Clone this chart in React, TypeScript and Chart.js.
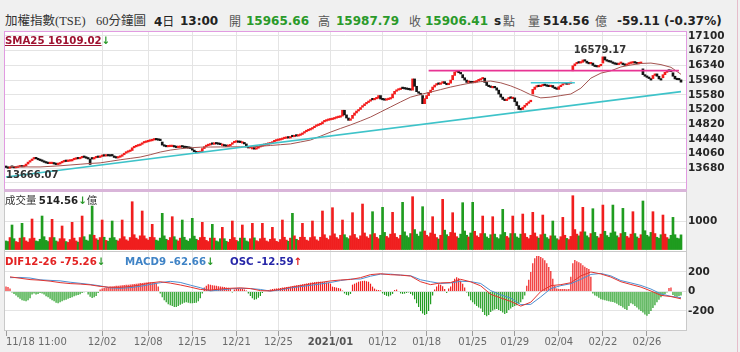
import React, { useEffect, useRef } from 'react';
import { Chart, registerables } from 'chart.js';

Chart.register(...registerables);

// ---------------- data ----------------
const DAYS = ['11/18','11/19','11/20','11/23','11/24','11/25','11/26','11/27','11/30','12/01','12/02','12/03','12/04','12/07','12/08','12/09','12/10','12/11','12/14','12/15','12/16','12/17','12/18','12/21','12/22','12/23','12/24','12/25','12/28','12/29','12/30','12/31','01/04','01/05','01/06','01/07','01/08','01/11','01/12','01/13','01/14','01/15','01/18','01/19','01/20','01/21','01/22','01/25','01/26','01/27','01/28','01/29','02/01','02/02','02/03','02/04','02/05','02/17','02/18','02/19','02/22','02/23','02/24','02/25','02/26','03/02','03/03','03/04'];
const SESSIONS = ['09:00', '10:00', '11:00', '12:00', '13:00'];

// hourly candles, one row per trading day
const OPEN: number[][] = [
  [13740,13700,13680],
  [13720,13705,13690,13700,13715],
  [13730,13715,13740,13790,13840],
  [13880,13920,13940,13925,13900],
  [13890,13860,13835,13815,13800],
  [13800,13810,13790,13775,13790],
  [13820,13845,13860,13855,13865],
  [13870,13900,13915,13930,13925],
  [13950,13970,13960,13940,13920],
  [13960,13920,13950,13965,13960],
  [13985,14000,13995,14010,14000],
  [14030,14000,13960,13945,13965],
  [13990,14030,14070,14095,14115],
  [14140,14210,14235,14255,14270],
  [14300,14335,14350,14365,14380],
  [14390,14410,14420,14415,14405],
  [14360,14280,14250,14235,14240],
  [14240,14255,14230,14215,14220],
  [14260,14230,14215,14210,14200],
  [14190,14150,14110,14080,14085],
  [14110,14190,14240,14265,14280],
  [14320,14300,14320,14310,14300],
  [14270,14280,14255,14245,14260],
  [14300,14340,14355,14360,14350],
  [14330,14345,14310,14230,14205],
  [14180,14195,14175,14200,14230],
  [14250,14270,14285,14300,14310],
  [14330,14365,14385,14400,14410],
  [14425,14445,14455,14470,14462],
  [14510,14495,14520,14512,14530],
  [14555,14590,14625,14650,14670],
  [14695,14730,14765,14785,14805],
  [14830,14880,14900,14918,14930],
  [14940,14955,14975,14990,15000],
  [15030,15180,15060,14980,14920],
  [14970,15050,15110,15160,15200],
  [15260,15300,15345,15380,15415],
  [15480,15450,15475,15490,15560],
  [15480,15450,15440,15455,15470],
  [15500,15600,15670,15700,15715],
  [15760,15740,15730,15720,15710],
  [15700,15990,15800,15660,15620],
  [15560,15350,15480,15560,15640],
  [15710,15780,15830,15870,15850],
  [15880,15920,15870,15840,15880],
  [15970,16080,16170,16210,16150],
  [16100,16020,15960,15900,15920],
  [15920,15890,15910,15940,15960],
  [15990,16010,15900,15820,15790],
  [15760,15790,15760,15700,15600],
  [15520,15460,15430,15470,15510],
  [15480,15500,15400,15300,15200],
  [15200,15260,15310,15360,15400],
  [15600,15720,15780,15800,15790],
  [15810,15840,15820,15800,15790],
  [15820,15770,15740,15720,15790],
  [15830,15860,15880,15850,15870],
  [16200,16330,16380,16420,16400],
  [16420,16480,16450,16400,16380],
  [16400,16340,16310,16300,16330],
  [16400,16560,16480,16450,16430],
  [16430,16390,16370,16360,16390],
  [16400,16360,16340,16370,16390],
  [16400,16430,16400,16380,16390],
  [16250,16100,16060,16030,16000],
  [16000,16080,16120,16060,15990],
  [16020,16100,16160,16200,16190],
  [16150,16060,15990,15970,15965.66],
];
const CLOSE: number[][] = [
  [13700,13680,13700],
  [13705,13690,13700,13715,13725],
  [13715,13740,13790,13840,13870],
  [13920,13940,13925,13900,13880],
  [13860,13835,13815,13800,13815],
  [13810,13790,13775,13790,13820],
  [13845,13860,13855,13865,13870],
  [13900,13915,13930,13925,13950],
  [13970,13960,13940,13920,13780],
  [13920,13950,13965,13960,13985],
  [14000,13995,14010,14000,13995],
  [14000,13960,13945,13965,13990],
  [14030,14070,14095,14115,14130],
  [14210,14235,14255,14270,14300],
  [14335,14350,14365,14380,14390],
  [14410,14420,14415,14405,14395],
  [14280,14250,14235,14240,14250],
  [14255,14230,14215,14220,14235],
  [14230,14215,14210,14200,14190],
  [14150,14110,14080,14085,14100],
  [14190,14240,14265,14280,14290],
  [14300,14320,14310,14300,14290],
  [14280,14255,14245,14260,14280],
  [14340,14355,14360,14350,14345],
  [14345,14310,14230,14205,14210],
  [14195,14175,14200,14230,14250],
  [14270,14285,14300,14310,14325],
  [14365,14385,14400,14410,14420],
  [14445,14455,14470,14462,14480],
  [14495,14520,14512,14530,14550],
  [14590,14625,14650,14670,14690],
  [14730,14765,14785,14805,14820],
  [14880,14900,14918,14930,14940],
  [14955,14975,14990,15000,15020],
  [15180,15060,14980,14920,14960],
  [15050,15110,15160,15200,15250],
  [15300,15345,15380,15415,15440],
  [15450,15475,15490,15560,15470],
  [15450,15440,15455,15470,15490],
  [15600,15670,15700,15715,15730],
  [15740,15730,15720,15710,15700],
  [15990,15800,15660,15620,15580],
  [15350,15480,15560,15640,15700],
  [15780,15830,15870,15850,15880],
  [15920,15870,15840,15880,15960],
  [16080,16170,16210,16150,16120],
  [16020,15960,15900,15920,15890],
  [15890,15910,15940,15960,15990],
  [16010,15900,15820,15790,15770],
  [15790,15760,15700,15600,15520],
  [15460,15430,15470,15510,15490],
  [15500,15400,15300,15200,15190],
  [15260,15310,15360,15400,15440],
  [15720,15780,15800,15790,15810],
  [15840,15820,15800,15790,15810],
  [15770,15740,15720,15790,15830],
  [15860,15880,15850,15870,15880],
  [16330,16380,16420,16400,16420],
  [16480,16450,16400,16380,16400],
  [16340,16310,16300,16330,16360],
  [16560,16480,16450,16430,16420],
  [16390,16370,16360,16390,16400],
  [16360,16340,16370,16390,16400],
  [16430,16400,16380,16390,16400],
  [16100,16060,16030,16000,15960],
  [16080,16120,16060,15990,15960],
  [16100,16160,16200,16190,16180],
  [16060,15990,15970,15965.66,15906.41],
];
// volume (億), one row per day
const VOLUME: number[][] = [
  [300,280,420],
  [860,380,280,250,400],
  [918,420,300,260,380],
  [1070,400,300,280,360],
  [1175,450,320,280,420],
  [1060,420,300,270,380],
  [825,380,280,250,350],
  [954,400,300,260,420],
  [1175,450,330,300,520],
  [1526,500,380,330,420],
  [1035,430,320,290,400],
  [1000,420,330,300,380],
  [1035,450,340,300,420],
  [1677,520,400,350,480],
  [1351,480,380,330,430],
  [884,420,330,300,400],
  [1270,480,360,320,420],
  [1152,450,340,300,400],
  [1035,430,330,290,380],
  [1094,470,360,320,420],
  [954,430,320,280,400],
  [884,400,300,270,380],
  [778,380,290,260,360],
  [1000,420,320,280,400],
  [860,400,300,270,380],
  [918,410,310,280,380],
  [918,400,300,270,360],
  [778,380,290,260,350],
  [1035,430,330,290,400],
  [1270,480,360,320,430],
  [918,430,330,300,420],
  [1000,450,340,300,430],
  [1351,520,400,350,480],
  [1467,550,420,370,500],
  [1035,520,420,380,480],
  [1292,530,410,360,480],
  [1596,580,450,400,520],
  [1327,560,430,380,500],
  [1480,600,460,410,540],
  [1304,560,430,380,500],
  [1655,620,480,420,560],
  [1854,700,540,470,620],
  [1503,650,500,450,580],
  [1152,540,420,370,500],
  [1760,680,520,460,600],
  [1292,580,450,400,540],
  [1643,650,500,440,580],
  [1655,640,480,430,560],
  [1175,560,440,390,520],
  [1152,540,420,380,520],
  [1409,600,460,410,560],
  [1175,560,440,400,540],
  [1245,560,430,380,500],
  [1304,580,450,400,520],
  [1210,540,420,370,480],
  [1000,480,380,340,450],
  [1128,500,390,350,460],
  [1888,700,540,480,620],
  [1480,620,480,420,560],
  [1432,600,460,410,540],
  [1560,640,490,430,580],
  [1560,620,480,420,560],
  [1444,600,460,410,540],
  [1327,560,440,390,520],
  [1702,660,500,450,600],
  [1327,560,430,390,520],
  [1210,540,420,370,500],
  [1128,520,400,380,514.56],
];
// MACD oscillator histogram, one row per day
const OSC: number[][] = [
  [50,45,30],
  [-10,-25,-40,-60,-75],
  [-90,-95,-100,-90,-70],
  [-30,-20,-30,-25,-15],
  [-20,-30,-50,-60,-75],
  [-90,-100,-115,-120,-110],
  [-100,-90,-85,-75,-68],
  [-60,-50,-42,-35,-28],
  [-15,-8,-5,-30,-55],
  [-68,-60,-45,-15,20],
  [30,35,40,45,50],
  [52,55,58,60,62],
  [64,66,68,70,72],
  [75,78,80,83,86],
  [88,90,92,95,95],
  [93,90,85,50,-20],
  [-60,-90,-110,-130,-140],
  [-150,-158,-160,-150,-135],
  [-125,-115,-110,-115,-120],
  [-120,-118,-115,-100,-70],
  [-20,40,60,75,70],
  [65,62,58,55,52],
  [48,46,42,38,30],
  [-10,20,25,28,30],
  [25,20,10,-20,-45],
  [-70,-85,-80,-65,-45],
  [-15,5,8,15,20],
  [25,28,30,33,36],
  [40,42,45,48,50],
  [55,60,63,66,70],
  [74,78,82,86,90],
  [93,96,98,100,100],
  [98,96,93,90,80],
  [50,45,40,35,30],
  [10,-20,-35,-40,-25],
  [70,80,90,100,105],
  [108,110,105,100,80],
  [50,30,18,15,12],
  [-20,-35,-45,-50,-40],
  [-25,15,20,5,-20],
  [-25,-22,-15,-10,-25],
  [-40,-80,-120,-160,-200],
  [-225,-240,-230,-200,-130],
  [-40,20,50,75,70],
  [55,25,-15,30,50],
  [100,130,145,135,110],
  [80,40,-10,-50,-90],
  [-110,-130,-150,-165,-175],
  [-210,-240,-255,-240,-210],
  [-195,-185,-180,-190,-200],
  [-215,-230,-220,-190,-175],
  [-160,-150,-140,-125,-110],
  [-80,-40,60,120,200],
  [290,340,365,363,355],
  [340,320,290,250,210],
  [130,60,30,25,25],
  [25,25,22,25,150],
  [290,323,310,300,290],
  [270,255,240,230,150],
  [-20,-40,-50,-65,-80],
  [-85,-90,-95,-100,-105],
  [-108,-115,-125,-140,-150],
  [-165,-180,-190,-150,-120],
  [-130,-150,-165,-185,-200],
  [-215,-235,-250,-230,-200],
  [-170,-140,-110,-85,-60],
  [-40,-25,-10,35,40],
  [-35,-50,-55,-45,-40],
];
// daily closing values of the indicators
const SMA25 = [13725,13720,13715,13715,13730,13745,13765,13785,13805,13820,13860,13900,13935,13970,14030,14100,14150,14185,14210,14225,14230,14232,14235,14235,14232,14250,14270,14290,14310,14360,14410,14510,14615,14710,14800,14900,15005,15135,15265,15395,15520,15590,15650,15715,15780,15835,15885,15920,15935,15890,15810,15705,15580,15500,15520,15560,15600,15750,16010,16140,16200,16300,16350,16390,16400,16360,16290,16109.02];
const DIF = [150,136,122,116,106,91,81,76,68,52,43,43,51,67,88,100,86,67,45,21,14,25,33,37,30,9,6,23,44,60,77,93,108,118,123,142,173,182,172,168,158,100,70,88,92,125,99,58,-29,-66,-102,-150,-110,0,60,70,90,160,200,180,148,100,72,45,5,-40,-52,-75.26];
const MACD9 = [142,144,138,120,114,109,95,84,72,58,37,33,39,53,72,90,104,93,65,39,6,15,27,33,30,21,4,17,36,50,63,77,92,112,127,128,157,178,178,168,162,120,100,82,88,105,101,82,9,-34,-68,-135,-132,-55,30,60,80,125,175,185,160,112,88,62,25,-25,-50,-62.66];

const PRICE_TICKS = [13680,14060,14440,14820,15200,15580,15960,16340,16720,17100];
const PRICE_GRID_EXTRA = [13300];
const VOLUME_TICKS = [1000];
const MACD_TICKS = [-200, 0, 200];
const X_TICK_AT = ['11/18 11:00','12/02 09:00','12/08 12:00','12/15 09:00','12/21 11:00','12/25 12:00','01/04 13:00','01/12 09:00','01/18 11:00','01/25 09:00','01/29 10:00','02/04 12:00','02/22 09:00','02/26 11:00'];
const X_TICK_TEXT = ['11/18 11:00','12/02','12/08','12/15','12/21','12/25','2021/01','01/12','01/18','01/25','01/29','02/04','02/22','02/26'];

const TREND_LINES = [
  { from: '11/18 11:00', to: '03/04 13:00', start: 13455, end: 15662, color: '#3ec3c9', width: 1.6 },
  { from: '01/18 12:00', to: '03/04 12:00', start: 16203, end: 16203, color: '#e83494', width: 1.8 },
  { from: '02/01 13:00', to: '02/17 10:00', start: 15893, end: 15893, color: '#41cbd6', width: 1.6 },
];
const MARKS = [
  { text: '16579.17', at: '02/22 09:00', value: 16579.17, where: 'above' },
  { text: '13666.07', at: '11/18 11:00', value: 13666.07, where: 'below' },
];

// axis ranges
const PRICE_MIN = 13119, PRICE_MAX = 17229;
const VOL_MIN = -52, VOL_MAX = 2018;
const MACD_MIN = -395, MACD_MAX = 405;

// ---------------- derived layout of categories ----------------
const BAR_LABELS: string[] = [];
const DAY_LAST: number[] = [];
DAYS.forEach((d, i) => {
  const n = CLOSE[i].length;
  const sess = i === 0 ? SESSIONS.slice(5 - n) : SESSIONS.slice(0, n);
  sess.forEach((s) => BAR_LABELS.push(`${d} ${s}`));
  DAY_LAST.push(BAR_LABELS.length - 1);
});
const SLOT_LABELS = [...BAR_LABELS, '', ' '];
const N = SLOT_LABELS.length;
const fOpen = OPEN.flat();
const fClose = CLOSE.flat();
const fVol = VOLUME.flat();
const fOsc = OSC.flat();
const isUp = (i: number) => fClose[i] >= fOpen[i];
const sparse = (vals: number[]) => {
  const a: (number | null)[] = new Array(N).fill(null);
  DAY_LAST.forEach((bi, d) => { a[bi] = vals[d]; });
  return a;
};

const FONT = '"DejaVu Sans", Verdana, sans-serif';
const GRID = '#e4e4e4';
const C_RED = '#f41c1c';
const C_BLACK = '#151515';
const C_VRED = '#f01e1e';
const C_VGREEN = '#1f9c1f';

Chart.defaults.font.family = FONT;

const whiteArea = {
  id: 'whiteArea',
  beforeDraw(chart: any) {
    const { ctx, chartArea: a } = chart;
    ctx.save();
    ctx.fillStyle = '#ffffff';
    ctx.fillRect(a.left, a.top, a.right - a.left, a.bottom - a.top);
    ctx.restore();
  },
};

const marksPlugin = {
  id: 'marks',
  afterDatasetsDraw(chart: any) {
    const { ctx, scales, chartArea } = chart;
    ctx.save();
    ctx.font = `bold 10px ${FONT}`;
    ctx.fillStyle = '#333';
    MARKS.forEach((m) => {
      const x = scales.x.getPixelForValue(SLOT_LABELS.indexOf(m.at));
      const y = scales.y.getPixelForValue(m.value);
      if (m.where === 'above') {
        ctx.textAlign = 'center';
        ctx.textBaseline = 'bottom';
        ctx.fillText(m.text, x - 3, y - 1);
      } else {
        ctx.textAlign = 'left';
        ctx.textBaseline = 'top';
        ctx.fillText(m.text, chartArea.left + 1, y + 2);
      }
    });
    ctx.restore();
  },
};

const xLabelsPlugin = {
  id: 'xLabels',
  afterDraw(chart: any) {
    const { ctx, scales, chartArea } = chart;
    ctx.save();
    ctx.textBaseline = 'middle';
    X_TICK_AT.forEach((key, k) => {
      const px = scales.x.getPixelForValue(SLOT_LABELS.indexOf(key));
      const text = X_TICK_TEXT[k];
      const isYear = /^\d{4}\//.test(text);
      ctx.font = `${isYear ? 'bold ' : ''}10px ${FONT}`;
      ctx.fillStyle = isYear ? '#555' : '#6a6a6a';
      ctx.textAlign = k === 0 ? 'left' : 'center';
      ctx.fillText(text, px, chartArea.bottom + 12.5);
    });
    ctx.restore();
  },
};

const xScale = (withTicks: boolean) => ({
  type: 'category',
  offset: true,
  grid: {
    color: (c: any) => (c.index === 0 ? 'rgba(0,0,0,0)' : GRID),
    offset: false,
    drawTicks: withTicks,
    tickLength: 6,
    tickColor: '#9c9c9c',
  },
  ticks: { display: false },
  border: { display: false },
  afterBuildTicks: (s: any) => { s.ticks = X_TICK_AT.map((k) => ({ value: SLOT_LABELS.indexOf(k) })); },
  afterFit: (s: any) => { s.height = withTicks ? 22 : 0; s.paddingLeft = 0; s.paddingRight = 0; },
});

const yScale = (min: number, max: number, grid: number[], labelled: number[]) => ({
  position: 'right',
  min,
  max,
  grid: { color: GRID, drawTicks: false },
  border: { display: false },
  ticks: {
    autoSkip: false,
    font: { family: FONT, size: 10.5, weight: 'bold' },
    color: '#262626',
    padding: 2,
    callback: (v: any) => (labelled.includes(v) ? String(v) : ''),
  },
  afterBuildTicks: (s: any) => { s.ticks = grid.map((v) => ({ value: v })); },
  afterFit: (s: any) => { s.width = 54; s.paddingTop = 0; s.paddingBottom = 0; },
});

const baseOptions = (pad: any) => ({
  animation: false,
  responsive: false,
  maintainAspectRatio: false,
  layout: { padding: pad },
  plugins: { legend: { display: false }, tooltip: { enabled: false } },
});

function priceConfig(): any {
  return {
    type: 'bar',
    data: {
      labels: SLOT_LABELS,
      datasets: [
        ...TREND_LINES.map((t) => ({
          type: 'line',
          data: [{ x: t.from, y: t.start }, { x: t.to, y: t.end }],
          borderColor: t.color,
          borderWidth: t.width,
          pointRadius: 0,
          order: 0,
        })),
        {
          type: 'line',
          label: 'SMA25',
          data: sparse(SMA25),
          spanGaps: true,
          borderColor: '#a45450',
          borderWidth: 1,
          pointRadius: 0,
          order: 1,
        },
        {
          type: 'bar',
          label: 'K',
          data: fOpen.map((o, i) => [o, fClose[i]]),
          backgroundColor: fOpen.map((_, i) => (isUp(i) ? C_RED : C_BLACK)),
          barPercentage: 1,
          categoryPercentage: 1,
          minBarLength: 1.5,
          order: 2,
        },
      ],
    },
    options: {
      ...baseOptions({ left: 5, top: 9, right: 0, bottom: 0 }),
      scales: {
        x: xScale(false),
        y: yScale(PRICE_MIN, PRICE_MAX, [...PRICE_GRID_EXTRA, ...PRICE_TICKS], PRICE_TICKS),
      },
    },
    plugins: [whiteArea, marksPlugin],
  };
}

function volumeConfig(): any {
  return {
    type: 'bar',
    data: {
      labels: SLOT_LABELS,
      datasets: [{
        label: '成交量',
        data: fVol,
        backgroundColor: fVol.map((_, i) => (isUp(i) ? C_VRED : C_VGREEN)),
        barPercentage: 1,
        categoryPercentage: 1,
      }],
    },
    options: {
      ...baseOptions({ left: 5, top: 0, right: 0, bottom: 0 }),
      scales: { x: xScale(false), y: yScale(VOL_MIN, VOL_MAX, VOLUME_TICKS, VOLUME_TICKS) },
    },
    plugins: [whiteArea],
  };
}

function macdConfig(): any {
  return {
    type: 'bar',
    data: {
      labels: SLOT_LABELS,
      datasets: [
        { type: 'line', label: 'DIF12-26', data: sparse(DIF), spanGaps: true, borderColor: '#e3342f', borderWidth: 1, pointRadius: 0, order: 0 },
        { type: 'line', label: 'MACD9', data: sparse(MACD9), spanGaps: true, borderColor: '#4d8fd1', borderWidth: 1, pointRadius: 0, order: 1 },
        {
          type: 'bar',
          label: 'OSC',
          data: fOsc,
          backgroundColor: fOsc.map((v) => (v >= 0 ? C_VRED : C_VGREEN)),
          barPercentage: 0.6,
          categoryPercentage: 1,
          order: 2,
        },
      ],
    },
    options: {
      ...baseOptions({ left: 5, top: 0, right: 0, bottom: 0 }),
      scales: { x: xScale(true), y: yScale(MACD_MIN, MACD_MAX, MACD_TICKS, MACD_TICKS) },
    },
    plugins: [whiteArea, xLabelsPlugin],
  };
}

// ---------------- view ----------------
const CJK = '"Noto Sans CJK TC", "Noto Sans CJK SC", sans-serif';
const SERIF = '"Liberation Serif", "Noto Sans CJK TC", serif';
const GREEN_TXT = '#2a9a2a';

const T = ({ x, y, children, style }: any) => (
  <span style={{ position: 'absolute', left: x, top: y, whiteSpace: 'nowrap', lineHeight: '14px', ...style }}>{children}</span>
);
const num = (size: number, color: string) => ({ fontFamily: FONT, fontWeight: 'bold', fontSize: size, color });
const cjk = (size: number, color = '#333') => ({ fontFamily: CJK, fontSize: size, color });

export default function App() {
  const pRef = useRef<HTMLCanvasElement>(null);
  const vRef = useRef<HTMLCanvasElement>(null);
  const mRef = useRef<HTMLCanvasElement>(null);

  useEffect(() => {
    const charts = [
      new Chart(pRef.current as HTMLCanvasElement, priceConfig()),
      new Chart(vRef.current as HTMLCanvasElement, volumeConfig()),
      new Chart(mRef.current as HTMLCanvasElement, macdConfig()),
    ];
    return () => charts.forEach((c) => c.destroy());
  }, []);

  return (
    <div style={{ position: 'fixed', left: 0, top: 0, width: 740, height: 352, background: '#f0f0f0', overflow: 'hidden' }}>
      {/* title row */}
      <T x={5} y={14} style={{ fontFamily: SERIF, fontSize: 12.5, color: '#333' }}>加權指數(TSE)</T>
      <T x={96} y={14} style={{ fontFamily: SERIF, fontSize: 12.5, color: '#333' }}>60分鐘圖</T>
      <T x={154} y={14}><span style={num(12, '#222')}>4</span><span style={cjk(12, '#222')}>日</span></T>
      <T x={180} y={14} style={num(12, '#222')}>13:00</T>
      <T x={229} y={14} style={cjk(12, '#555')}>開</T>
      <T x={246} y={14} style={num(12, GREEN_TXT)}>15965.66</T>
      <T x={318} y={14} style={cjk(12, '#555')}>高</T>
      <T x={336} y={14} style={num(12, GREEN_TXT)}>15987.79</T>
      <T x={409} y={14} style={cjk(12, '#555')}>收</T>
      <T x={425} y={14} style={num(12, GREEN_TXT)}>15906.41</T>
      <T x={494} y={14} style={num(12, '#222')}>s</T>
      <T x={503} y={14} style={cjk(12, '#555')}>點</T>
      <T x={528} y={14} style={cjk(12, '#555')}>量</T>
      <T x={543} y={14} style={num(12, '#222')}>514.56</T>
      <T x={595} y={14} style={cjk(12, '#555')}>億</T>
      <T x={617} y={14} style={num(12, '#222')}>-59.11 (-0.37%)</T>

      <canvas ref={pRef} width={740} height={168} style={{ position: 'absolute', left: 0, top: 22, width: 740, height: 168 }} />
      <canvas ref={vRef} width={740} height={59} style={{ position: 'absolute', left: 0, top: 192, width: 740, height: 59 }} />
      <canvas ref={mRef} width={740} height={100} style={{ position: 'absolute', left: 0, top: 252, width: 740, height: 100 }} />

      {/* panel frames */}
      <div style={{ position: 'absolute', left: 4, top: 31, width: 683, height: 159, border: '1px solid #e19be1', borderBottom: 'none', boxSizing: 'border-box' }} />
      <div style={{ position: 'absolute', left: 4, top: 189, width: 683, height: 3, background: '#d9b5d9' }} />
      <div style={{ position: 'absolute', left: 4, top: 192, width: 683, height: 60, border: '1px solid #c9c9c9', borderTop: 'none', boxSizing: 'border-box' }} />
      <div style={{ position: 'absolute', left: 4, top: 251, width: 683, height: 80, border: '1px solid #c9c9c9', boxSizing: 'border-box' }} />
      <div style={{ position: 'absolute', left: 737, top: 0, width: 1, height: 352, background: '#e6bccb' }} />

      {/* panel legends */}
      <T x={5} y={31.5}>
        <span style={{ ...num(10.2, '#9e1230'), textDecoration: 'underline' }}>SMA25 16109.02</span>
        <span style={num(10.2, GREEN_TXT)}>↓</span>
      </T>
      <T x={5} y={192}>
        <span style={cjk(10.5, '#333')}>成交量 </span>
        <span style={num(10.2, '#222')}>514.56</span>
        <span style={num(10.2, GREEN_TXT)}>↓</span>
        <span style={cjk(10.5, '#333')}>億</span>
      </T>
      <T x={5} y={252.5}>
        <span style={num(10.2, '#e32222')}>DIF12-26 -75.26</span>
        <span style={num(10.2, GREEN_TXT)}>↓</span>
      </T>
      <T x={125} y={252.5}>
        <span style={num(10.2, '#3f83c6')}>MACD9 -62.66</span>
        <span style={num(10.2, GREEN_TXT)}>↓</span>
      </T>
      <T x={230} y={252.5}>
        <span style={num(10.2, '#2626a8')}>OSC -12.59</span>
        <span style={num(10.2, '#e32222')}>↑</span>
      </T>
    </div>
  );
}
